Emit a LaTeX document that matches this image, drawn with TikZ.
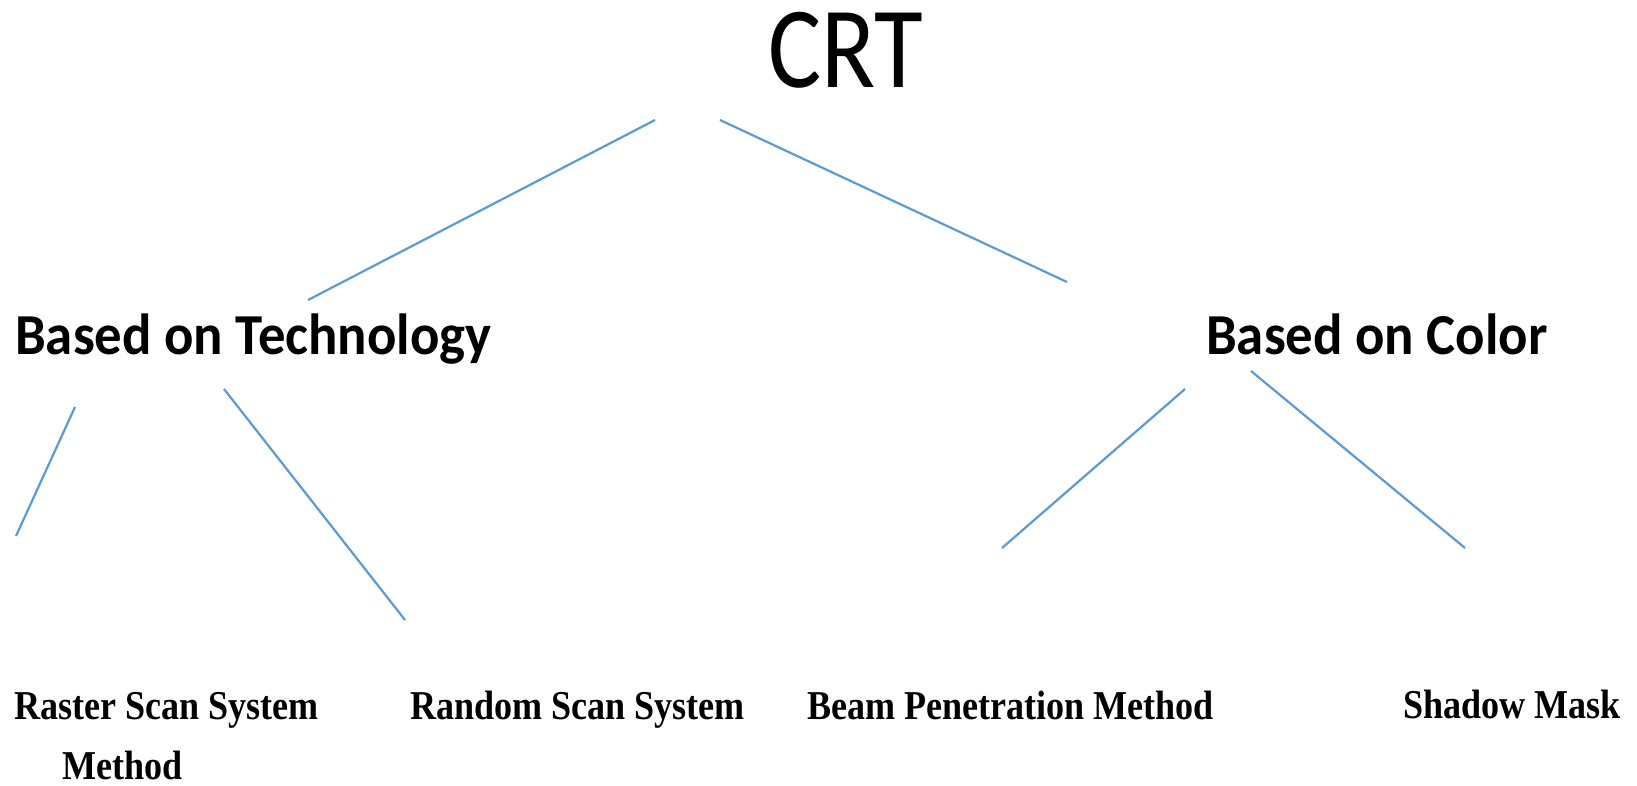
\documentclass[tikz,border=0pt]{standalone}
\usepackage{fontspec}
\usetikzlibrary{positioning}
\newfontfamily\crtfont[FakeStretch=0.86]{Carlito}
\newfontfamily\headfont[FakeStretch=0.945]{Carlito}
\newfontfamily\leaffont[FakeStretch=0.88]{Liberation Serif}
\definecolor{linkblue}{HTML}{5B9BD5}

\begin{document}
\begin{tikzpicture}[
  x=1pt,y=-1pt,
  top/.style={inner sep=0pt,anchor=base,font=\crtfont\fontsize{116}{120}\selectfont},
  head/.style={inner sep=0pt,anchor=base west,font=\headfont\bfseries\fontsize{58}{62}\selectfont},
  leaf/.style={inner sep=0pt,anchor=base west,align=left,font=\leaffont\bfseries\fontsize{41}{60}\selectfont},
  link/.style={draw=linkblue,line width=2.2pt}
]
\useasboundingbox (0,0) rectangle (1637,786);
\node[top] (crt) at (846,88) {CRT};
\node[head] (tech) at (15,354) {Based on Technology};
\node[head] (color) at (1206,354) {Based on Color};
\node[leaf] (raster) at (14,779) {Raster Scan System\\\hspace*{48pt}Method};
\node[leaf] (random) at (410,719) {Random Scan System};
\node[leaf] (beam) at (807,719) {Beam Penetration Method};
\node[leaf] (shadow) at (1403,718) {Shadow Mask};
\coordinate (c1) at (655,120);
\coordinate (c2) at (720,120);
\coordinate (t0) at (308,300);
\coordinate (k0) at (1067,282);
\coordinate (t1) at (75,407);
\coordinate (t2) at (224,389);
\coordinate (k1) at (1185,389);
\coordinate (k2) at (1251,371);
\coordinate (r0) at (16,536);
\coordinate (n0) at (405,620);
\coordinate (b0) at (1002,548);
\coordinate (s0) at (1465,548);
\draw[link] (c1)--(t0);
\draw[link] (c2)--(k0);
\draw[link] (t1)--(r0);
\draw[link] (t2)--(n0);
\draw[link] (k1)--(b0);
\draw[link] (k2)--(s0);
\end{tikzpicture}
\end{document}
